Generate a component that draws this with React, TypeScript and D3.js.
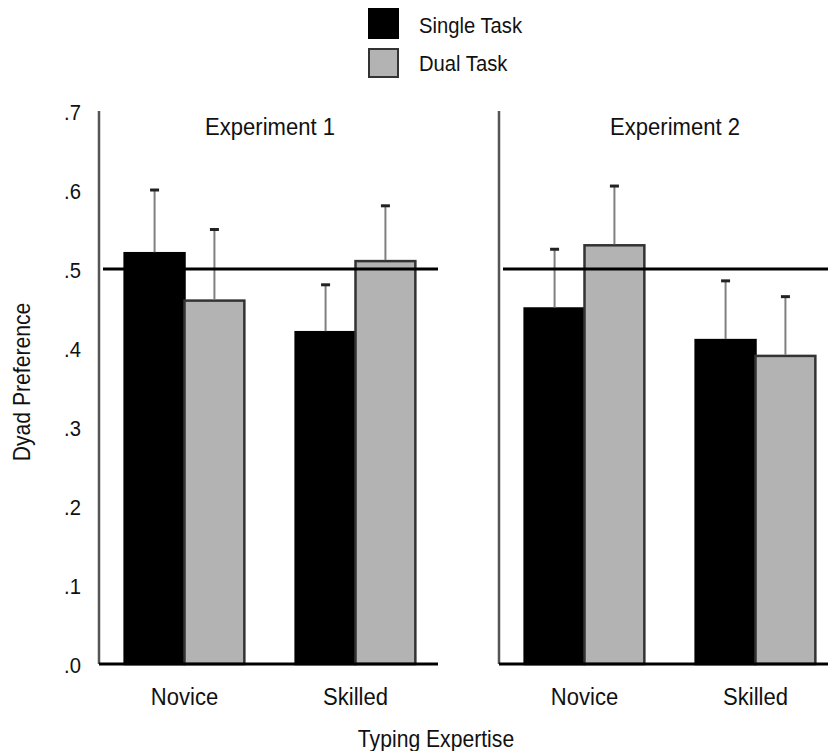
import React from "react";
import * as d3 from "d3";

const categories = ["Novice", "Skilled"];
const experiments = ["Experiment 1", "Experiment 2"];
const seriesNames = ["Single Task", "Dual Task"];
const exp1Single = [0.52, 0.42];
const exp1Dual = [0.46, 0.51];
const exp1SingleErr = [0.08, 0.06];
const exp1DualErr = [0.09, 0.07];
const exp2Single = [0.45, 0.41];
const exp2Dual = [0.53, 0.39];
const exp2SingleErr = [0.075, 0.075];
const exp2DualErr = [0.075, 0.075];
const tickValues = [0, 0.1, 0.2, 0.3, 0.4, 0.5, 0.6, 0.7];
const tickLabels = [".0", ".1", ".2", ".3", ".4", ".5", ".6", ".7"];
const referenceValue = 0.5;

const W = 828;
const H = 751;
const FONT = "'Liberation Sans', Arial, Helvetica, sans-serif";
const colors = ["#000000", "#b3b3b3"];
const strokes = ["#000000", "#333333"];

function T({ x, y, size = 23, anchor = "middle", rotate = 0, children }: any) {
  return (
    <g transform={`translate(${x},${y}) rotate(${rotate}) scale(0.92,1)`}>
      <text x={0} y={0} fontSize={size} textAnchor={anchor} dominantBaseline="central" fill="#111">{children}</text>
    </g>
  );
}

export default function App() {
  const y = d3.scaleLinear().domain([0, 0.7]).range([664, 111]);
  const panels = [
    { axisX: 99, baseEnd: 438, refStart: 103, refEnd: 438, single: exp1Single, dual: exp1Dual, sErr: exp1SingleErr, dErr: exp1DualErr, titleX: 270 },
    { axisX: 499, baseEnd: 828, refStart: 503, refEnd: 828, single: exp2Single, dual: exp2Dual, sErr: exp2SingleErr, dErr: exp2DualErr, titleX: 675 },
  ];

  return (
    <svg width={W} height={H} style={{ position: "absolute", left: 0, top: 0, background: "#fff" }} fontFamily={FONT}>
      {seriesNames.map((s, i) => (
        <g key={s}>
          <rect x={369} y={i === 0 ? 9 : 49} width={29} height={i === 0 ? 29 : 28} fill={colors[i]} stroke={strokes[i]} strokeWidth={2} />
          <T x={419} y={i === 0 ? 25 : 63} size={22} anchor="start">{s}</T>
        </g>
      ))}

      {tickValues.map((v, i) => (
        <T key={v} x={81} y={y(v) + 1} size={22} anchor="end">{tickLabels[i]}</T>
      ))}

      <T x={22} y={382} size={23} rotate={-90}>Dyad Preference</T>

      {panels.map((p, pi) => {
        const x = d3.scaleBand<string>().domain(categories).range([p.axisX, p.axisX + 342]).paddingInner(0.3).paddingOuter(0.15);
        const xs = d3.scaleBand<string>().domain(seriesNames).range([0, x.bandwidth()]);
        const vals = [p.single, p.dual];
        const errs = [p.sErr, p.dErr];
        return (
          <g key={pi}>
            <T x={p.titleX} y={127} size={24}>{experiments[pi]}</T>
            {categories.map((c, ci) =>
              seriesNames.map((s, si) => {
                const bx = (x(c) as number) + (xs(s) as number);
                const v = vals[si][ci];
                return (
                  <rect key={c + s} x={bx} y={y(v)} width={xs.bandwidth()} height={y(0) - y(v)} fill={colors[si]} stroke={strokes[si]} strokeWidth={2.5} />
                );
              })
            )}
            {categories.map((c, ci) =>
              seriesNames.map((s, si) => {
                const cx = (x(c) as number) + (xs(s) as number) + xs.bandwidth() / 2;
                const v = vals[si][ci];
                const top = v + errs[si][ci];
                return (
                  <g key={"e" + c + s}>
                    <line x1={cx} x2={cx} y1={y(v) - 1} y2={y(top)} stroke="#808080" strokeWidth={2} />
                    <line x1={cx - 4.5} x2={cx + 4.5} y1={y(top)} y2={y(top)} stroke="#222" strokeWidth={3} />
                  </g>
                );
              })
            )}
            <line x1={p.axisX} x2={p.axisX} y1={y(0.7)} y2={y(0)} stroke="#555" strokeWidth={2.5} />
            <line x1={p.axisX} x2={p.baseEnd} y1={y(0)} y2={y(0)} stroke="#000" strokeWidth={3} />
            <line x1={p.refStart} x2={p.refEnd} y1={y(referenceValue)} y2={y(referenceValue)} stroke="#000" strokeWidth={3} />
            {categories.map((c) => (
              <T key={"l" + c} x={(x(c) as number) + x.bandwidth() / 2} y={697} size={24}>{c}</T>
            ))}
          </g>
        );
      })}

      <T x={436} y={739} size={23}>Typing Expertise</T>
    </svg>
  );
}
